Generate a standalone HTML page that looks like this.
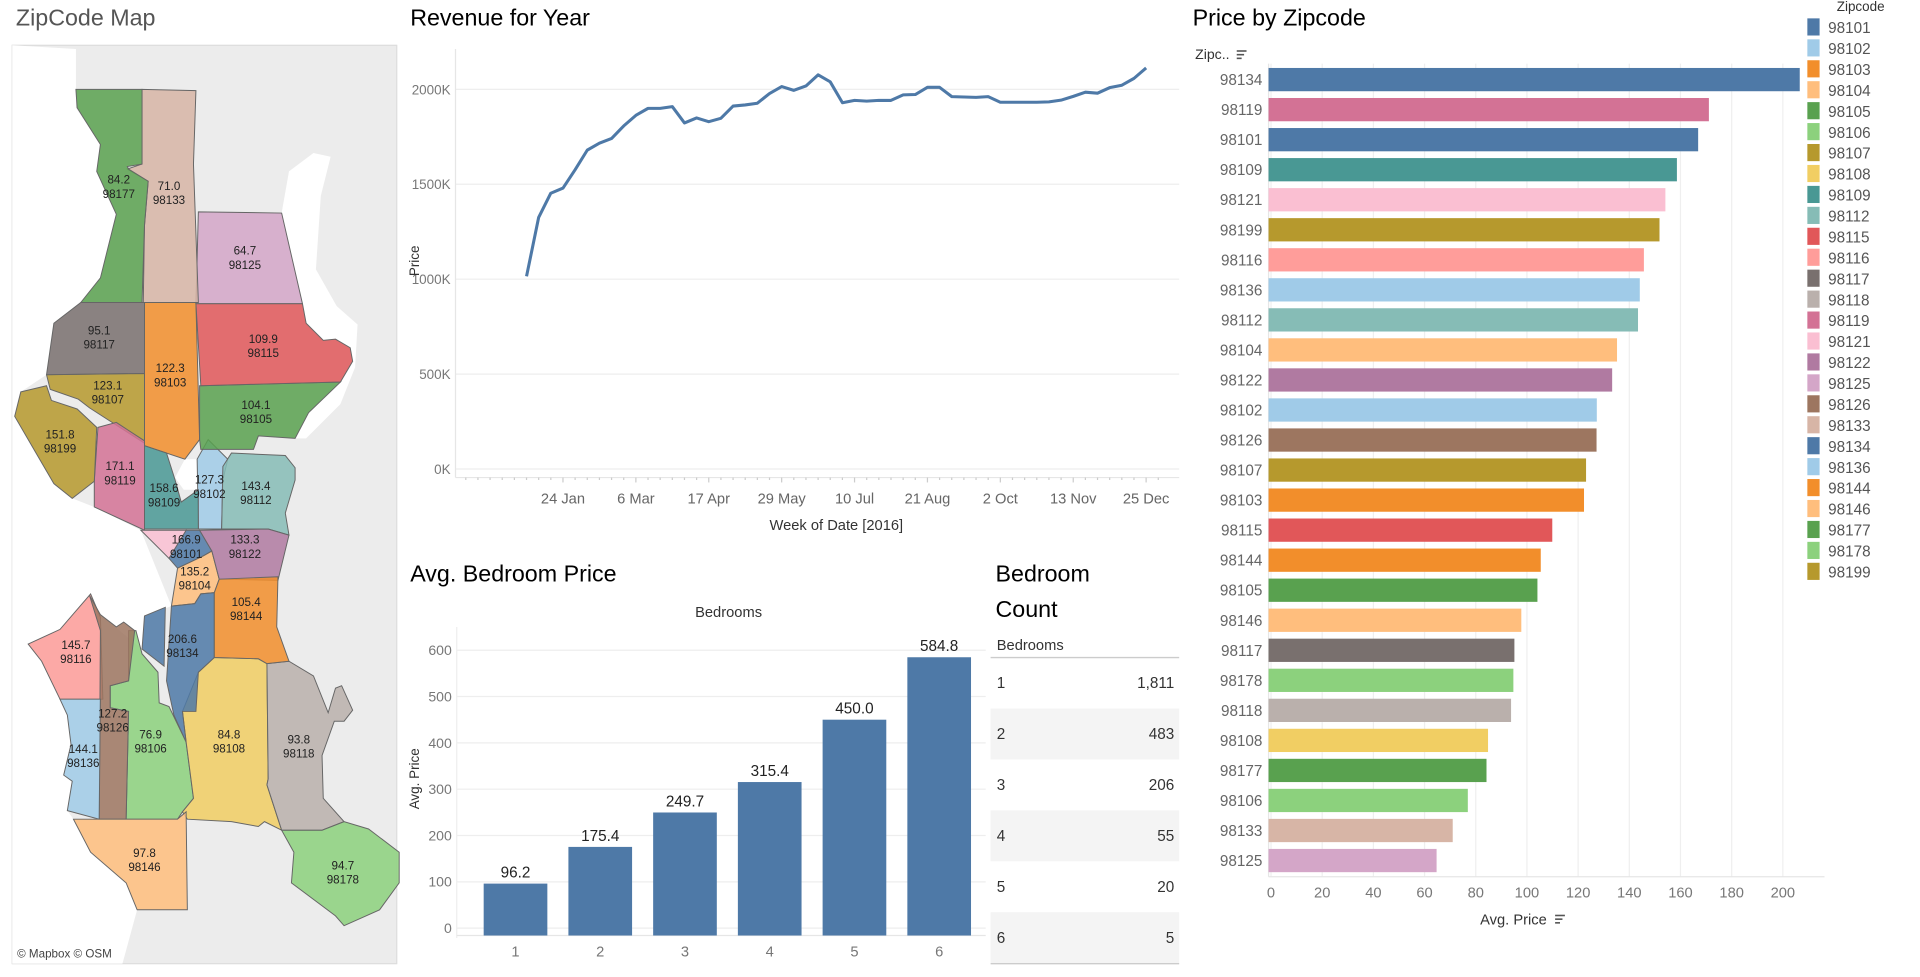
<!DOCTYPE html>
<html><head><meta charset="utf-8">
<style>
html,body{margin:0;padding:0;background:#fff;overflow:hidden;}
#wrap{width:1568px;height:793px;transform:scale(1.22449);transform-origin:0 0;position:absolute;left:0;top:0;}
svg text{font-family:"Liberation Sans",sans-serif;}
</style></head>
<body>
<div id="wrap">
<svg id="s" width="1568" height="793" viewBox="0 0 1568 793">
 <text x="13" y="21" font-size="19" fill="#555">ZipCode Map</text>
 <text x="335" y="21" font-size="19" fill="#000">Revenue for Year</text>
 <text x="974" y="21" font-size="19" fill="#000">Price by Zipcode</text>
 <text x="335" y="475" font-size="19" fill="#000">Avg. Bedroom Price</text>
 <text x="813" y="475" font-size="19" fill="#000">Bedroom</text>
 <text x="813" y="504" font-size="19" fill="#000">Count</text>

 <g id="map">
  <rect x="10" y="37" width="314" height="750" fill="#ececec" stroke="#ddd"/>
  <polygon fill="#fff" points="10,37 62,40 62,88 82,118 79,140 95,175 82,227 66,247 44,264 38,306 17,320 12,340 30,371 44,395 59,407 77,414 115,433 140,495 118,503 116,530 82,502 74,485 49,514 23,526 34,540 49,571 55,584 58,608 52,633 59,638 55,662 60,669 74,696 103,721 112,743 100,787 10,787"/>
  <polygon fill="#fff" points="230,174 236,140 256,125 270,128 262,160 258,220 275,250 292,265 290,300 278,330 250,358 241,358 252,337 278,312 288,295 286,284 274,277 264,278 250,264 247,248"/>
  <polygon fill="#fff" points="143,390 151,375 161,375 162,400 150,400"/>
  <g id="zips" stroke="#666" stroke-width="0.8" fill-opacity="0.85"></g>
  <g id="ziplabels" font-size="9.5" fill="#222" text-anchor="middle"></g>
  <text x="14" y="782" font-size="9.5" fill="#444">© Mapbox © OSM</text>
 </g>

 <g id="line"></g>
 <g id="bed"></g>
 <g id="tbl"></g>
 <g id="zipbar"></g>
 <g id="legend"></g>
</svg>
</div>
<script>
const weekLabels = ["24 Jan","6 Mar","17 Apr","29 May","10 Jul","21 Aug","2 Oct","13 Nov","25 Dec"];
const weekTickIndex = [3,9,15,21,27,33,39,45,51];
const revenueK = [1015,1325,1453,1480,1577,1680,1717,1741,1808,1863,1900,1900,1909,1823,1850,1830,1848,1912,1918,1927,1978,2015,1995,2018,2077,2040,1930,1942,1938,1942,1942,1971,1973,2011,2011,1962,1960,1958,1962,1932,1932,1932,1932,1934,1943,1963,1985,1980,2009,2022,2058,2113];
const revenueTicks = [0,500,1000,1500,2000];

const bedrooms = ["1","2","3","4","5","6"];
const bedPrice = [96.2,175.4,249.7,315.4,450.0,584.8];
const bedTicks = [0,100,200,300,400,500,600];
const bedCounts = ["1,811","483","206","55","20","5"];

const zipOrder = ["98134","98119","98101","98109","98121","98199","98116","98136","98112","98104","98122","98102","98126","98107","98103","98115","98144","98105","98146","98117","98178","98118","98108","98177","98106","98133","98125"];
const zipPrice = [206.6,171.1,166.9,158.6,154.1,151.8,145.7,144.1,143.4,135.2,133.3,127.3,127.2,123.1,122.3,109.9,105.4,104.1,97.8,95.1,94.7,93.8,84.8,84.2,76.9,71.0,64.7];
const zipTicks = [0,20,40,60,80,100,120,140,160,180,200];

const legendZips = ["98101","98102","98103","98104","98105","98106","98107","98108","98109","98112","98115","98116","98117","98118","98119","98121","98122","98125","98126","98133","98134","98136","98144","98146","98177","98178","98199"];
const zipColor = {"98101":"#4e79a7","98102":"#a0cbe8","98103":"#f28e2b","98104":"#ffbe7d","98105":"#59a14f","98106":"#8cd17d","98107":"#b6992d","98108":"#f1ce63","98109":"#499894","98112":"#86bcb6","98115":"#e15759","98116":"#ff9d9a","98117":"#79706e","98118":"#bab0ac","98119":"#d37295","98121":"#fabfd2","98122":"#b07aa1","98125":"#d4a6c8","98126":"#9d7660","98133":"#d7b5a6","98134":"#4e79a7","98136":"#a0cbe8","98144":"#f28e2b","98146":"#ffbe7d","98177":"#59a14f","98178":"#8cd17d","98199":"#b6992d"};

const NS="http://www.w3.org/2000/svg";
function mk(parent,tag,attrs,txt){const e=document.createElementNS(NS,tag);for(const k in attrs)e.setAttribute(k,attrs[k]);if(txt!==undefined)e.textContent=txt;parent.appendChild(e);return e;}

const zipShapes = {
"98177":"62,73 116,73 116,134 104,136 105,138 121,148 118,184 116,247 66,247 82,227 95,175 79,140 82,118 63,88",
"98133":"116,73 160,74 158,134 162,247 117,247 118,184 121,148 104,138 116,134",
"98125":"162,173 230,174 247,248 160,248",
"98117":"66,247 118,247 118,305 38,306 44,264",
"98103":"118,247 160,247 163,359 151,375 118,364 118,305",
"98115":"160,248 247,248 250,264 264,278 274,277 286,284 288,295 278,312 164,315",
"98105":"163,315 278,312 252,337 241,358 211,356 207,367 164,367 163,359",
"98107":"38,306 118,305 118,362 104,353 73,333 64,326 41,318",
"98199":"17,320 38,315 42,327 63,334 79,349 77,393 59,407 44,395 30,371 12,340",
"98119":"80,349 95,345 118,360 118,433 77,414 77,393",
"98109":"118,364 136,370 143,392 148,410 162,400 162,432 118,432",
"98102":"161,375 170,359 186,375 182,392 181,432 162,432",
"98112":"182,381 189,370 233,372 241,382 241,392 233,419 236,437 219,432 181,432",
"98121":"115,433 152,433 138,456",
"98101":"152,433 163,433 173,450 166,454 145,464 138,456",
"98122":"163,433 219,432 236,437 227,474 179,473 173,450",
"98104":"166,454 173,450 179,473 175,484 164,485 159,493 140,495 145,464",
"98144":"179,473 227,471 226,512 236,540 218,542 211,538 175,537 175,484",
"98134":"140,495 159,493 164,485 175,484 175,537 162,549 160,581 149,581 152,606 142,584 136,556 M118,503 135,496 134,544 116,530",
"98116":"23,526 49,514 74,485 82,504 84,571 49,571 34,540",
"98126":"73,486 82,502 95,512 101,508 110,515 105,556 90,560 90,578 105,581 103,669 81,669 82,515",
"98106":"105,515 111,515 116,534 129,549 130,574 138,577 152,606 158,652 149,663 145,669 103,669 105,581 90,578 90,560 105,556",
"98136":"49,571 82,571 81,669 55,662 59,638 52,633 58,608 55,584",
"98108":"149,581 162,549 175,537 211,538 218,542 219,636 218,641 230,678 216,671 211,675 189,671 153,669 149,663 158,652 152,606",
"98118":"218,542 236,540 256,552 268,582 274,562 279,560 288,580 281,589 273,589 263,617 264,652 281,671 263,678 230,678 218,641 219,636",
"98146":"60,669 145,669 152,663 153,743 112,743 103,721 74,696",
"98178":"230,678 263,678 281,671 301,677 326,696 326,721 310,743 281,756 274,748 238,721 240,696"
};
const mapLabels = [
["98177","84.2",97,152],["98133","71.0",138,157],["98125","64.7",200,210],["98117","95.1",81,275],
["98103","122.3",139,306],["98115","109.9",215,282],["98107","123.1",88,320],["98105","104.1",209,336],
["98199","151.8",49,360],["98119","171.1",98,386],["98109","158.6",134,404],["98102","127.3",171,397],
["98112","143.4",209,402],["98101","166.9",152,446],["98122","133.3",200,446],["98104","135.2",159,472],
["98144","105.4",201,497],["98116","145.7",62,532],["98134","206.6",149,527],["98126","127.2",92,588],
["98106","76.9",123,605],["98108","84.8",187,605],["98118","93.8",244,609],["98136","144.1",68,617],
["98146","97.8",118,702],["98178","94.7",280,712]
];
const gz=document.getElementById('zips');
for(const z in zipShapes){
  const parts=zipShapes[z].split(' M');
  parts.forEach(p=>{
    const el=mk(gz,'polygon',{points:p,fill:zipColor[z]});
    
    
  });
}
const gl=document.getElementById('ziplabels');
mapLabels.forEach(l=>{
  const t=mk(gl,'text',{x:l[2],y:l[3]-2});
  
  
  mk(t,'tspan',{x:l[2]},l[1]);
  mk(t,'tspan',{x:l[2],dy:11.5},l[0]);
});

(function(){
  const g=document.getElementById('line');
  const L=372,R=963,T=40,B=390;
  const y=v=>383-v*(383-73)/2000;
  const x=k=>430+k*(936-430)/51;
  revenueTicks.forEach(v=>{
    const ln=mk(g,'line',{x1:L,x2:R,y1:y(v),y2:y(v),stroke:'#eeeeee'});
    
    
    const t=mk(g,'text',{x:L-4,y:y(v)+4,'font-size':11,fill:'#777','text-anchor':'end'},v+'K');
    
    
  });
  mk(g,'line',{x1:L,x2:L,y1:T,y2:B,stroke:'#e6e6e6'});
  mk(g,'line',{x1:L,x2:R,y1:B,y2:B,stroke:'#e6e6e6'});
  for(let k=-6;k<=52;k++){const xx=x(k);if(xx>L&&xx<R)mk(g,'line',{x1:xx,x2:xx,y1:B,y2:B+(weekTickIndex.includes(k)?4:2),stroke:'#ccc'});}
  weekLabels.forEach((lab,i)=>{
    const t=mk(g,'text',{x:x(weekTickIndex[i]),y:411,'font-size':12,fill:'#666','text-anchor':'middle'},lab);
    
    
  });
  const xt=mk(g,'text',{x:683,y:433,'font-size':12,fill:'#333','text-anchor':'middle'},'Week of Date [2016]');
  
  
  const yt=mk(g,'text',{x:0,y:0,'font-size':11,fill:'#333','text-anchor':'middle',transform:'translate(342,213) rotate(-90)'},'Price');
  
  
  const pts=revenueK.map((v,k)=>x(k).toFixed(1)+','+y(v).toFixed(1)).join(' ');
  const pl=mk(g,'polyline',{points:pts,fill:'none',stroke:'#4e79a7','stroke-width':2.5,'stroke-linejoin':'round'});
  
  
})();

(function(){
  const g=document.getElementById('bed');
  const L=373,R=805;
  const y=v=>758-v*(758-531)/600;
  const cx=i=>421+i*69.2;
  const h=mk(g,'text',{x:595,y:504,'font-size':12,fill:'#333','text-anchor':'middle'},'Bedrooms');
  
  
  bedTicks.forEach(v=>{
    const ln=mk(g,'line',{x1:L,x2:R,y1:y(v),y2:y(v),stroke:'#eeeeee'});
    
    
    const t=mk(g,'text',{x:L-4,y:y(v)+4,'font-size':11.5,fill:'#777','text-anchor':'end'},v);
    
    
  });
  mk(g,'line',{x1:L,x2:L,y1:512,y2:766,stroke:'#eee'});
  mk(g,'line',{x1:L,x2:R,y1:764,y2:764,stroke:'#e6e6e6'});
  const yt=mk(g,'text',{x:0,y:0,'font-size':11,fill:'#333','text-anchor':'middle',transform:'translate(342,636) rotate(-90)'},'Avg. Price');
  
  
  bedPrice.forEach((v,i)=>{
    const r=mk(g,'rect',{x:cx(i)-26,y:y(v),width:52,height:764-y(v),fill:'#4e79a7'});
    
    
    const t=mk(g,'text',{x:cx(i),y:y(v)-5,'font-size':12.5,fill:'#222','text-anchor':'middle'},v.toFixed(1));
    
    
    const xl=mk(g,'text',{x:cx(i),y:781,'font-size':12,fill:'#777','text-anchor':'middle'},bedrooms[i]);
    
    
  });
})();

(function(){
  const g=document.getElementById('tbl');
  const h=mk(g,'text',{x:814,y:531,'font-size':12,fill:'#333'},'Bedrooms');
  
  
  mk(g,'line',{x1:809,x2:963,y1:537,y2:537,stroke:'#ccc','stroke-width':1.2});
  bedCounts.forEach((c,i)=>{
    const top=537+i*41.6;
    if(i%2===1){const bg=mk(g,'rect',{x:809,y:top,width:154,height:41.6,fill:'#f4f4f4'});
      }
    const a=mk(g,'text',{x:814,y:top+25,'font-size':12.5,fill:'#333'},bedrooms[i]);
    
    
    const b=mk(g,'text',{x:959,y:top+25,'font-size':12.5,fill:'#333','text-anchor':'end'},c);
    
    
  });
  mk(g,'line',{x1:809,x2:963,y1:787,y2:787,stroke:'#ccc','stroke-width':1.2});
})();

(function(){
  const g=document.getElementById('zipbar');
  const x=v=>1038+v*2.09;
  const cy=i=>65+i*24.53;
  zipTicks.forEach(v=>{
    const ln=mk(g,'line',{x1:x(v),x2:x(v),y1:52,y2:716,stroke:'#efefef'});
    
    
    const t=mk(g,'text',{x:x(v),y:733,'font-size':12,fill:'#777','text-anchor':'middle'},v);
    
    
  });
  mk(g,'line',{x1:1036,x2:1036,y1:52,y2:716,stroke:'#e6e6e6'});
  mk(g,'line',{x1:1036,x2:1490,y1:716,y2:716,stroke:'#e6e6e6'});
  const hd=mk(g,'text',{x:976,y:48,'font-size':11.5,fill:'#333'},'Zipc..');
  
  
  [[0,8],[0,6],[0,4]].forEach((s,i)=>mk(g,'rect',{x:1010,y:41+i*3,width:s[1],height:1.3,fill:'#555'}));
  zipOrder.forEach((z,i)=>{
    const r=mk(g,'rect',{x:1036,y:cy(i)-9.5,width:x(zipPrice[i])-1036,height:19,fill:zipColor[z]});
    
    
    const t=mk(g,'text',{x:1031,y:cy(i)+4.5,'font-size':12.5,fill:'#666','text-anchor':'end'},z);
    
    
  });
  const xt=mk(g,'text',{x:1236,y:755,'font-size':12,fill:'#333','text-anchor':'middle'},'Avg. Price');
  
  
  [[0,8],[0,6],[0,4]].forEach((s,i)=>mk(g,'rect',{x:1270,y:747+i*3,width:s[1],height:1.3,fill:'#555'}));
})();

(function(){
  const g=document.getElementById('legend');
  const t0=mk(g,'text',{x:1500,y:9,'font-size':11,fill:'#333'},'Zipcode');
  
  
  legendZips.forEach((z,i)=>{
    const yy=22+i*17.1;
    const sw=mk(g,'rect',{x:1476,y:yy-7,width:10,height:14,fill:zipColor[z]});
    
    
    const t=mk(g,'text',{x:1493,y:yy+5,'font-size':12.5,fill:'#555'},z);
    
    
  });
})();
</script>
</body></html>
